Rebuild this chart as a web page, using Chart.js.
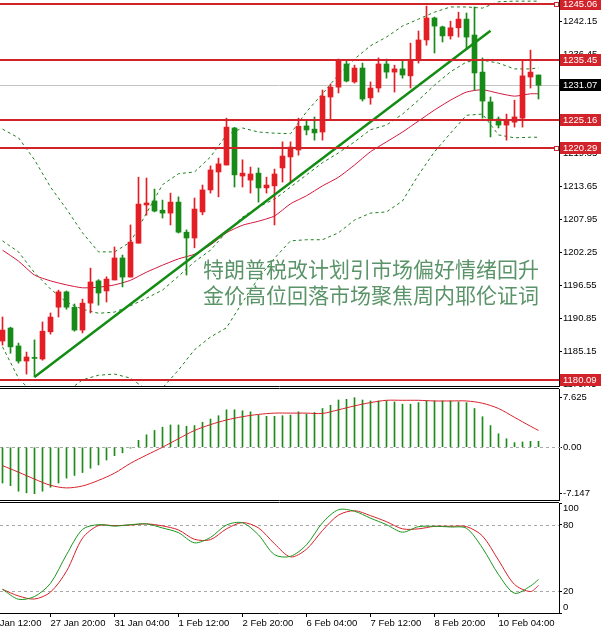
<!DOCTYPE html>
<html lang="zh">
<head>
  <meta charset="UTF-8" />
  <title>XAUUSD H4</title>
  <script src="https://cdn.jsdelivr.net/npm/chart.js"></script>
  <style>
    html, body { margin: 0; padding: 0; background: #fff; }
    #wrap { position: relative; width: 601px; height: 630px; overflow: hidden; }
    canvas { position: absolute; left: 0; }
    #mainChart { top: 0; }
    #macdChart { top: 387px; }
    #stochChart { top: 502px; }
  </style>
</head>
<body>

  <div id="wrap">
    <canvas id="mainChart" width="601" height="387"></canvas>
    <canvas id="macdChart" width="601" height="115"></canvas>
    <canvas id="stochChart" width="601" height="128"></canvas>
  </div>

  <script>
    // H4 candles, 26 Jan - 10 Feb
    const opens = [1186.9,1189.15,1186.05,1183.45,1184.0,1183.8,1188.5,1192.75,1195.4,1192.75,
      1188.8,1193.45,1197.3,1195.55,1197.45,1201.25,1197.95,1203.8,1210.4,1211.1,
      1209.5,1209.0,1210.9,1205.7,1204.7,1209.2,1213.0,1216.1,1217.3,1223.7,
      1215.4,1214.7,1215.9,1213.35,1213.7,1216.8,1218.7,1219.9,1224.05,1223.5,
      1223.0,1229.05,1230.75,1234.75,1231.65,1234.05,1228.9,1230.6,1234.75,1233.35,
      1233.9,1232.7,1235.6,1238.9,1242.7,1241.15,1239.6,1241.0,1242.5,1239.75,
      1233.35,1228.2,1225.25,1224.2,1224.7,1225.4,1232.5,1232.85];
    const highs = [1191.05,1189.3,1186.55,1185.0,1187.1,1190.2,1191.75,1195.7,1195.55,1193.3,
      1194.15,1199.5,1197.5,1198.0,1203.15,1201.75,1206.95,1215.2,1215.05,1213.15,
      1211.25,1212.45,1211.8,1206.1,1211.6,1213.85,1217.15,1218.5,1225.4,1223.8,
      1218.2,1216.95,1216.8,1215.2,1216.6,1221.3,1221.3,1225.4,1224.9,1225.6,
      1230.25,1231.3,1235.6,1235.45,1234.55,1234.9,1231.65,1235.8,1235.6,1234.55,
      1235.45,1238.35,1240.45,1244.75,1242.85,1241.3,1242.15,1243.7,1243.55,1244.6,
      1235.8,1229.05,1225.6,1226.1,1228.5,1235.45,1237.15,1232.85];
    const lows = [1186.2,1184.8,1183.1,1181.2,1180.7,1183.6,1188.1,1191.05,1192.4,1188.6,
      1188.3,1191.75,1193.1,1193.65,1197.45,1196.25,1197.95,1203.8,1208.65,1209.2,
      1208.15,1206.95,1205.55,1198.3,1203.0,1208.7,1212.45,1211.8,1217.3,1213.5,
      1213.5,1212.45,1210.9,1212.45,1206.95,1214.35,1214.35,1219.0,1222.5,1221.6,
      1221.6,1225.1,1229.75,1231.65,1231.45,1228.35,1227.8,1229.9,1232.3,1229.9,
      1232.3,1230.6,1234.9,1238.0,1236.65,1238.55,1239.05,1239.4,1237.5,1230.25,
      1225.4,1222.15,1223.7,1221.6,1223.85,1223.85,1230.6,1228.7];
    const closes = [1188.8,1185.9,1183.45,1184.15,1183.9,1188.6,1191.05,1195.4,1192.75,1188.8,
      1193.45,1197.1,1195.2,1197.6,1201.25,1197.95,1204.0,1210.55,1210.75,1209.35,
      1209.0,1210.9,1205.7,1204.7,1209.7,1213.0,1216.45,1217.5,1223.85,1215.6,
      1215.9,1215.75,1213.35,1213.85,1215.75,1218.85,1220.4,1224.0,1223.35,1222.85,
      1229.2,1230.75,1235.45,1231.8,1234.05,1228.7,1230.6,1234.75,1233.35,1233.9,
      1232.85,1235.45,1238.9,1242.7,1241.3,1239.6,1241.0,1242.5,1239.4,1233.2,
      1228.35,1225.1,1224.2,1225.1,1225.6,1232.7,1233.35,1231.07];

    // indicator lines read every second bar (plus the last one)
    const sampleBars = [0,2,4,6,8,10,12,14,16,18,20,22,24,26,28,30,32,34,36,38,40,42,44,46,48,50,52,54,56,58,60,62,64,66,67];
    const bandUpper = [1223.5,1222.0,1218.2,1213.5,1209.7,1205.6,1202.3,1202.3,1204.0,1209.0,1213.9,1215.8,1216.1,1218.7,1222.5,1223.7,1223.0,1222.8,1222.7,1226.5,1229.6,1232.9,1235.6,1237.9,1239.4,1241.3,1242.5,1243.7,1244.6,1244.6,1244.4,1245.5,1245.6,1245.6,1245.6];
    const bandMiddle = [1204.2,1202.3,1198.7,1195.9,1193.6,1192.4,1191.7,1191.9,1193.0,1194.3,1195.7,1198.1,1200.6,1202.6,1205.7,1208.3,1210.1,1211.4,1213.5,1215.6,1217.7,1219.4,1221.3,1223.4,1224.2,1226.1,1228.5,1231.1,1233.4,1235.1,1235.4,1234.9,1233.9,1233.9,1234.1];
    const bandLower = [1185.9,1180.5,1177.6,1177.1,1178.1,1180.2,1181.0,1181.2,1180.5,1178.5,1178.8,1181.9,1185.4,1187.6,1189.2,1193.6,1197.8,1201.2,1204.2,1204.4,1204.4,1205.6,1207.8,1209.0,1209.2,1211.1,1215.6,1219.6,1222.8,1225.9,1226.1,1222.5,1222.0,1222.1,1222.1];
    const maLine = [1202.6,1200.7,1198.3,1197.3,1196.6,1196.1,1196.2,1196.6,1197.4,1198.8,1200.0,1201.1,1201.9,1203.5,1205.6,1206.9,1207.6,1208.5,1210.6,1212.0,1213.7,1215.2,1217.3,1219.6,1221.3,1223.0,1224.9,1226.8,1228.5,1229.9,1230.3,1229.7,1229.2,1229.6,1229.6];
    const macdSignal = [-2.83,-3.84,-4.9,-5.86,-6.26,-5.96,-5.1,-3.99,-2.47,-1.21,0.0,1.31,2.58,3.48,4.19,4.7,5.05,5.25,5.25,5.25,5.2,5.76,6.36,6.87,7.22,7.22,7.22,7.12,7.12,7.12,6.77,5.96,4.6,3.23,2.58];
    const stochK = [21.5,12.5,15,27,53,76,80.3,79,80.3,81,77.3,73,63.8,68.7,80,82,71,53,51.5,62,82,93.9,92.5,86.2,80.3,73.5,78.5,78.8,78.2,77,59,35,18,24.5,30.5];
    const stochD = [21.5,15.5,12.7,19,38,68,79.5,79.4,80,81,79.2,75.5,67,66.7,76.5,82.2,77.3,63,51,58,75,89,93,88.5,83,76.5,76.5,78.8,78.8,78.5,70,48,26,19.5,25];

    // MACD histogram, one value per bar
    const macdHist = [-5.51,-5.91,-6.77,-7.02,-7.15,-6.77,-6.16,-5.51,-4.75,-4.34,-3.89,-3.23,-2.73,-1.97,-1.31,-0.86,-0.15,
      1.06,1.92,2.58,3.08,3.43,3.43,3.23,3.33,3.84,4.34,4.85,5.76,5.76,5.61,5.45,4.95,4.75,4.75,4.85,4.95,5.45,5.10,5.35,
      5.96,6.46,7.27,7.37,7.63,7.27,7.12,7.12,7.12,6.97,6.62,6.62,6.87,7.12,7.12,7.12,7.12,6.97,6.87,5.96,4.70,3.33,2.07,
      1.31,0.71,0.81,0.91,0.91];

    const levels = [1245.06, 1235.45, 1225.16, 1220.29, 1180.09];
    const markedLevels = [1245.06, 1220.29];
    const lastPrice = 1231.07;
    const trendBars = [4, 61];
    const trendPrices = [1180.7, 1240.5];
    const notes = ['特朗普税改计划引市场偏好情绪回升', '金价高位回落市场聚焦周内耶伦证词'];

    const priceTicks = [1179.45,1185.15,1190.85,1196.55,1202.25,1207.95,1213.65,1219.35,1225.05,1230.75,1236.45,1242.15];
    const macdTicks = [7.625, 0, -7.147];
    const macdTickLabels = ['7.625', '0.00', '-7.147'];
    const stochTicks = [100, 80, 20, 0];
    // the end labels sit inside the panel, as in the terminal
    const stochTickLabels = [['', '100'], '80', '20', ['0', '']];
    const xTickBars = [-2, 6, 14, 22, 30, 38, 46, 54, 62];
    const xTickLabels = ['26 Jan 12:00', '27 Jan 20:00', '31 Jan 04:00', '1 Feb 12:00', '2 Feb 20:00',
      '6 Feb 04:00', '7 Feb 12:00', '8 Feb 20:00', '10 Feb 04:00'];

    const UP = '#e41e25', DOWN = '#178a17', LEVEL = '#d3232a', BAND = '#1f7f1f',
          MA = '#d2143c', TREND = '#128c12', NOTE = '#5a9468';
    const axisFont = { family: '"Liberation Sans", Arial, sans-serif', size: 9.5 };

    const xMin = -0.3125, xMax = xMin + 559 / 8;
    const bars = opens.map((_, i) => i);
    const sampled = arr => arr.map((v, j) => ({ x: sampleBars[j], y: v }));
    const candleColor = c => closes[c.dataIndex] >= opens[c.dataIndex] ? UP : DOWN;

    function timeAxis(show) {
      return {
        type: 'linear', min: xMin, max: xMax, display: show, offset: false,
        afterBuildTicks: s => { s.ticks = xTickBars.map(v => ({ value: v })); },
        afterFit: s => { s.paddingLeft = 0; s.paddingRight = 0; if (show) s.height = 17; },
        ticks: { autoSkip: false, maxRotation: 0, minRotation: 0, align: 'start', padding: 1,
                 color: '#000', font: axisFont, callback: (v, i) => xTickLabels[i] },
        grid: { offset: false, drawOnChartArea: false, tickLength: 4, tickColor: '#000' },
        border: { display: false }
      };
    }

    function rightAxis(min, max, values, labels) {
      return {
        position: 'right', min: min, max: max,
        afterBuildTicks: s => { s.ticks = values.map(v => ({ value: v })); },
        afterFit: s => { s.width = 42; s.paddingTop = 0; s.paddingBottom = 0; },
        ticks: { autoSkip: false, color: '#000', font: axisFont, padding: 1, callback: (v, i) => labels[i] },
        grid: { drawOnChartArea: false, tickLength: 3, tickColor: '#000' },
        border: { display: true, color: '#000' }
      };
    }

    const panelFrame = {
      id: 'panelFrame',
      afterDraw(chart, args, opts) {
        const { ctx, chartArea: a } = chart;
        ctx.save();
        ctx.strokeStyle = '#000';
        ctx.lineWidth = 1;
        ctx.beginPath();
        if (opts.top) { ctx.moveTo(a.left, a.top - 0.5); ctx.lineTo(a.right, a.top - 0.5); }
        if (opts.bottom) { ctx.moveTo(a.left, a.bottom + 0.5); ctx.lineTo(a.right, a.bottom + 0.5); }
        ctx.stroke();
        ctx.restore();
      }
    };

    const refLines = {
      id: 'refLines',
      beforeDatasetsDraw(chart, args, opts) {
        if (!opts.values) return;
        const { ctx, chartArea: a, scales } = chart;
        ctx.save();
        ctx.strokeStyle = '#a8a8a8';
        ctx.lineWidth = 1;
        ctx.setLineDash([3, 3]);
        opts.values.forEach(v => {
          const py = Math.round(scales.y.getPixelForValue(v)) + 0.5;
          ctx.beginPath();
          ctx.moveTo(a.left, py);
          ctx.lineTo(a.right + (opts.extend || 0), py);
          ctx.stroke();
        });
        ctx.restore();
      }
    };

    const priceOverlay = {
      id: 'priceOverlay',
      beforeDatasetsDraw(chart) {
        const { ctx, chartArea: a, scales: { y } } = chart;
        const py = Math.round(y.getPixelForValue(lastPrice)) + 0.5;
        ctx.save();
        ctx.strokeStyle = '#c4c4c4';
        ctx.lineWidth = 1;
        ctx.beginPath();
        ctx.moveTo(a.left, py);
        ctx.lineTo(a.right, py);
        ctx.stroke();
        ctx.restore();
      },
      afterDatasetsDraw(chart) {
        const { ctx, chartArea: a, scales: { y } } = chart;
        ctx.save();
        ctx.strokeStyle = LEVEL;
        ctx.lineWidth = 2;
        levels.forEach(v => {
          const py = Math.round(y.getPixelForValue(v));
          ctx.beginPath();
          ctx.moveTo(a.left, py);
          ctx.lineTo(a.right, py);
          ctx.stroke();
        });
        markedLevels.forEach(v => {
          const py = Math.round(y.getPixelForValue(v));
          ctx.fillStyle = LEVEL;
          ctx.fillRect(a.right - 5, py - 2, 5, 5);
          ctx.fillStyle = '#fff';
          ctx.fillRect(a.right - 4, py - 1, 3, 3);
        });
        ctx.fillStyle = NOTE;
        ctx.font = '21px "Noto Sans CJK SC"';
        ctx.textBaseline = 'middle';
        notes.forEach((t, k) => ctx.fillText(t, 203, 269 + 26 * k));
        ctx.restore();
      },
      afterDraw(chart) {
        const { ctx, chartArea: a, scales: { y } } = chart;
        ctx.save();
        ctx.font = '9.5px "Liberation Sans", Arial, sans-serif';
        ctx.textBaseline = 'middle';
        const tag = (v, bg) => {
          const py = Math.round(y.getPixelForValue(v));
          ctx.fillStyle = bg;
          ctx.fillRect(a.right + 1, py - 6, 42, 12);
          ctx.fillStyle = '#fff';
          ctx.fillText(v.toFixed(2), a.right + 4, py + 0.5);
        };
        levels.forEach(v => tag(v, LEVEL));
        tag(lastPrice, '#000');
        ctx.restore();
      }
    };

    const common = {
      responsive: false,
      animation: false,
      events: [],
      plugins: { legend: { display: false }, tooltip: { enabled: false } }
    };

    new Chart(document.getElementById('mainChart'), {
      type: 'bar',
      data: {
        datasets: [
          { type: 'line', data: trendBars.map((b, k) => ({ x: b, y: trendPrices[k] })),
            borderColor: TREND, borderWidth: 2.5, pointRadius: 0, order: 0 },
          { data: bars.map(i => ({ x: i, y: [opens[i], closes[i]] })), backgroundColor: candleColor,
            barThickness: 5, minBarLength: 1, grouped: false, order: 1 },
          { data: bars.map(i => ({ x: i, y: [lows[i], highs[i]] })), backgroundColor: candleColor,
            barThickness: 1, grouped: false, order: 2 },
          { type: 'line', data: sampled(bandUpper), borderColor: BAND, borderWidth: 1, borderDash: [3, 3], pointRadius: 0, order: 3 },
          { type: 'line', data: sampled(bandMiddle), borderColor: BAND, borderWidth: 1, borderDash: [3, 3], pointRadius: 0, order: 3 },
          { type: 'line', data: sampled(bandLower), borderColor: BAND, borderWidth: 1, borderDash: [3, 3], pointRadius: 0, order: 3 },
          { type: 'line', data: sampled(maLine), borderColor: MA, borderWidth: 1, pointRadius: 0, tension: 0.2, order: 4 }
        ]
      },
      options: Object.assign({}, common, {
        layout: { padding: { bottom: 1 } },
        plugins: Object.assign({}, common.plugins, { panelFrame: { bottom: true } }),
        scales: {
          x: timeAxis(false),
          y: rightAxis(1179.14, 1245.8, priceTicks, priceTicks.map(v => v.toFixed(2)))
        }
      }),
      plugins: [panelFrame, priceOverlay]
    });

    new Chart(document.getElementById('macdChart'), {
      type: 'bar',
      data: {
        datasets: [
          { type: 'line', data: sampled(macdSignal), borderColor: '#d8202a', borderWidth: 1, pointRadius: 0, tension: 0.3, order: 0 },
          { data: bars.map(i => ({ x: i, y: macdHist[i] })), backgroundColor: '#1b8c1b', barThickness: 1, grouped: false, order: 1 }
        ]
      },
      options: Object.assign({}, common, {
        layout: { padding: { top: 2, bottom: 2 } },
        plugins: Object.assign({}, common.plugins, { panelFrame: { top: true, bottom: true }, refLines: { values: [0], extend: 4 } }),
        scales: {
          x: timeAxis(false),
          y: rightAxis(-8.12, 8.96, macdTicks, macdTickLabels)
        }
      }),
      plugins: [panelFrame, refLines]
    });

    new Chart(document.getElementById('stochChart'), {
      type: 'line',
      data: {
        datasets: [
          { data: sampled(stochK), borderColor: '#1a961a', borderWidth: 1, pointRadius: 0, tension: 0.3, order: 0 },
          { data: sampled(stochD), borderColor: '#d8202a', borderWidth: 1, pointRadius: 0, tension: 0.3, order: 1 }
        ]
      },
      options: Object.assign({}, common, {
        layout: { padding: { top: 1 } },
        plugins: Object.assign({}, common.plugins, { panelFrame: { top: true, bottom: true }, refLines: { values: [80, 20] } }),
        scales: {
          x: timeAxis(true),
          y: rightAxis(0, 100, stochTicks, stochTickLabels)
        }
      }),
      plugins: [panelFrame, refLines]
    });
  </script>

</body>
</html>
